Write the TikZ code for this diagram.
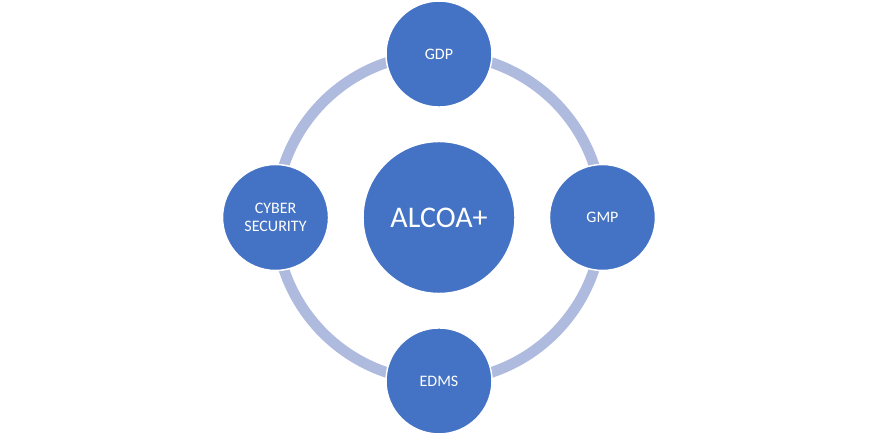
\documentclass[tikz,border=0pt]{standalone}
\usepackage{fontspec}
\setmainfont{Carlito}
\usetikzlibrary{positioning}
\usetikzlibrary{backgrounds}
\definecolor{alcoablue}{RGB}{68,114,196}
\definecolor{ringblue}{RGB}{174,187,222}

\begin{document}
\begin{tikzpicture}[x=0.75pt,y=0.75pt,line cap=butt,
  node distance=122.6pt,on grid,
  hub/.style={circle,fill=alcoablue,draw=white,line width=1.1pt,inner sep=0pt,
    minimum size=114pt,text=white,font=\fontsize{22.5}{27}\selectfont},
  topic/.style={circle,fill=alcoablue,draw=white,line width=1.1pt,inner sep=0pt,
    minimum size=79.5pt,text=white,align=center,font=\fontsize{12}{14}\selectfont},
  ring/.style={draw=ringblue,line width=8pt}]
\useasboundingbox (0,0) rectangle (878,435);
% centre and the four topics round it
\node[hub] (alcoa) at (439,217.5) {ALCOA+};
\node[topic,above=of alcoa] (gdp) {GDP};
\node[topic,right=of alcoa] (gmp) {GMP};
\node[topic,below=of alcoa] (edms) {EDMS};
\node[topic,left=of alcoa] (cyber) {CYBER\\SECURITY};
% the ring behind the topics
\begin{scope}[on background layer]
\draw[ring] (gdp.center) to[out=0,in=90] (gmp.center);
\draw[ring] (gmp.center) to[out=-90,in=0] (edms.center);
\draw[ring] (edms.center) to[out=180,in=-90] (cyber.center);
\draw[ring] (cyber.center) to[out=90,in=180] (gdp.center);
\end{scope}
\end{tikzpicture}
\end{document}
